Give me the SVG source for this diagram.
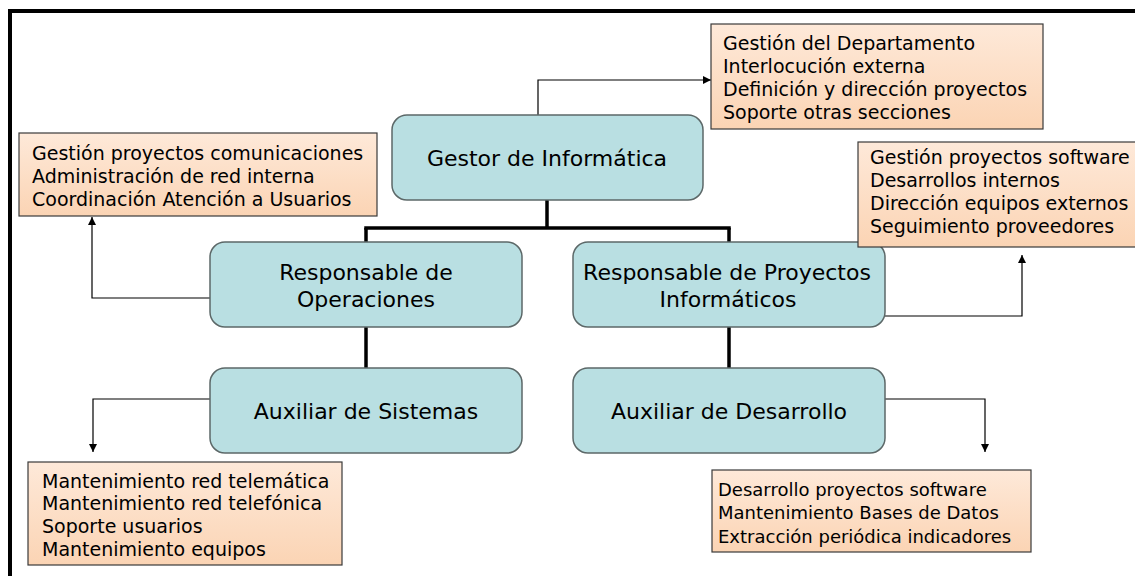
<svg xmlns="http://www.w3.org/2000/svg" width="1135" height="576" viewBox="0 0 1135 576">
<defs>
<linearGradient id="peach" x1="0" y1="0" x2="0" y2="1">
<stop offset="0" stop-color="#fee9d9"/>
<stop offset="1" stop-color="#fbd4b4"/>
</linearGradient>
<marker id="arr" markerWidth="9" markerHeight="8" refX="8" refY="4" orient="auto" markerUnits="userSpaceOnUse">
<path d="M0,0 L8,4 L0,8 z" fill="#000"/>
</marker>
</defs>
<style>
.node rect{fill:#b9dfe2;stroke:#5c6868;stroke-width:1.5}
.node text{font-family:"DejaVu Sans",Verdana,sans-serif;font-size:22px;fill:#000;text-anchor:middle}
.note rect{fill:url(#peach);stroke:#3a3a3a;stroke-width:1.2}
.note text{font-family:"DejaVu Sans",Verdana,sans-serif;font-size:19px;fill:#000}
.thick{fill:none;stroke:#000;stroke-width:3.5}
.thin{fill:none;stroke:#000;stroke-width:1.2;marker-end:url(#arr)}
</style>
<rect x="0" y="0" width="1135" height="576" fill="#fff"/>
<path d="M10,576 V11 H1135" fill="none" stroke="#000" stroke-width="4"/>

<g id="connectors">
<path class="thick" d="M547,200 V228"/>
<path class="thick" d="M364.25,228 H730.75"/>
<path class="thick" d="M366,228 V242"/>
<path class="thick" d="M729,228 V242"/>
<path class="thick" d="M366,327 V368"/>
<path class="thick" d="M729,327 V368"/>
<path class="thin" d="M538,115 V80 H711"/>
<path class="thin" d="M210,298 H92 V217"/>
<path class="thin" d="M885,316 H1022 V255"/>
<path class="thin" d="M210,399 H93 V452"/>
<path class="thin" d="M885,399 H985 V452"/>
</g>

<g id="gestor" class="node">
<rect x="392" y="115" width="311" height="85" rx="15"/>
<text x="547" y="166">Gestor de Informática</text>
</g>
<g id="resp-operaciones" class="node">
<rect x="210" y="242" width="312" height="85" rx="15"/>
<text x="366" y="280">Responsable de</text>
<text x="366" y="307">Operaciones</text>
</g>
<g id="resp-proyectos" class="node">
<rect x="573" y="242" width="312" height="85" rx="15"/>
<text x="727" y="280">Responsable de Proyectos</text>
<text x="728" y="307">Informáticos</text>
</g>
<g id="aux-sistemas" class="node">
<rect x="210" y="368" width="312" height="85" rx="15"/>
<text x="366" y="419">Auxiliar de Sistemas</text>
</g>
<g id="aux-desarrollo" class="node">
<rect x="573" y="368" width="312" height="85" rx="15"/>
<text x="729" y="419">Auxiliar de Desarrollo</text>
</g>

<g id="note-gestor" class="note">
<rect x="711" y="24" width="332" height="105"/>
<text x="723" y="50">Gestión del Departamento</text>
<text x="723" y="73">Interlocución externa</text>
<text x="723" y="96">Definición y dirección proyectos</text>
<text x="723" y="119">Soporte otras secciones</text>
</g>
<g id="note-operaciones" class="note">
<rect x="19" y="133" width="358" height="83"/>
<text x="32" y="160">Gestión proyectos comunicaciones</text>
<text x="32" y="183">Administración de red interna</text>
<text x="32" y="206">Coordinación Atención a Usuarios</text>
</g>
<g id="note-proyectos" class="note">
<rect x="858" y="142" width="290" height="105"/>
<text x="870" y="164">Gestión proyectos software</text>
<text x="870" y="187">Desarrollos internos</text>
<text x="870" y="210">Dirección equipos externos</text>
<text x="870" y="233">Seguimiento proveedores</text>
</g>
<g id="note-sistemas" class="note">
<rect x="28" y="462" width="314" height="103"/>
<text x="42" y="488">Mantenimiento red telemática</text>
<text x="42" y="510">Mantenimiento red telefónica</text>
<text x="42" y="533">Soporte usuarios</text>
<text x="42" y="556">Mantenimiento equipos</text>
</g>
<g id="note-desarrollo" class="note">
<rect x="712" y="470" width="319" height="82"/>
<text x="718" y="496" style="font-size:18px">Desarrollo proyectos software</text>
<text x="718" y="519" style="font-size:18px">Mantenimiento Bases de Datos</text>
<text x="718" y="543" style="font-size:18px">Extracción periódica indicadores</text>
</g>
</svg>
